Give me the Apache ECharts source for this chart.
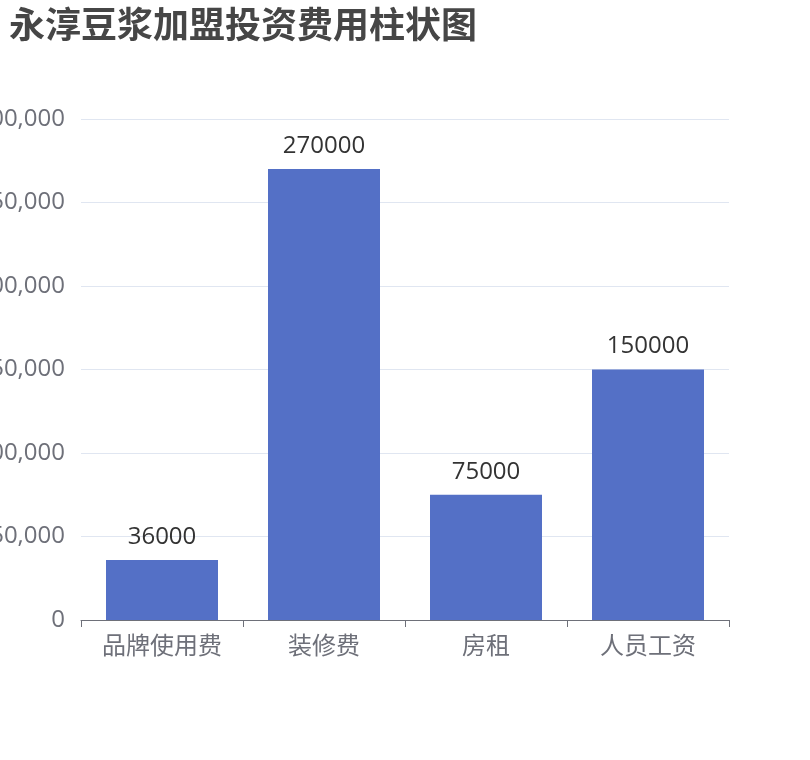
<!DOCTYPE html>
<html><head><meta charset="utf-8">
<script src="https://cdn.jsdelivr.net/npm/echarts@6/dist/echarts.min.js"></script>
<style>html,body{margin:0;padding:0;background:#fff}#c{width:810px;height:760px}</style>
</head><body><div id="c"></div>
<script>
const categories = ['品牌使用费', '装修费', '房租', '人员工资'];
const values = [36000, 270000, 75000, 150000];
const FONT = '"Open Sans", "Noto Sans CJK SC", sans-serif';
const chart = echarts.init(document.getElementById('c'));
chart.setOption({
  title: { text: '永淳豆浆加盟投资费用柱状图', left: 4, top: 1,
    textStyle: { fontSize: 36, fontWeight: 'bold', color: '#464646', fontFamily: 'Noto Sans CJK SC' } },
  grid: { left: 81, right: 81, top: 119, bottom: 140, containLabel: false, outerBoundsMode: 'none' },
  xAxis: { type: 'category', data: categories,
    axisLine: { lineStyle: { color: '#6E7079' } },
    axisTick: { show: true, length: 7, lineStyle: { color: '#6E7079' } },
    axisLabel: { fontSize: 24, color: '#6E7079', fontFamily: FONT, margin: 15 } },
  yAxis: { type: 'value', min: 0, max: 300000, interval: 50000,
    splitLine: { lineStyle: { color: '#E0E6F1' } },
    axisLabel: { fontSize: 24, color: '#6E7079', fontFamily: FONT, margin: 16 } },
  series: [{ type: 'bar', data: values, barWidth: 112, itemStyle: { color: '#5470c6' },
    label: { show: true, position: 'top', fontSize: 24, color: '#333', fontFamily: FONT, distance: 11 } }]
});
</script></body></html>
